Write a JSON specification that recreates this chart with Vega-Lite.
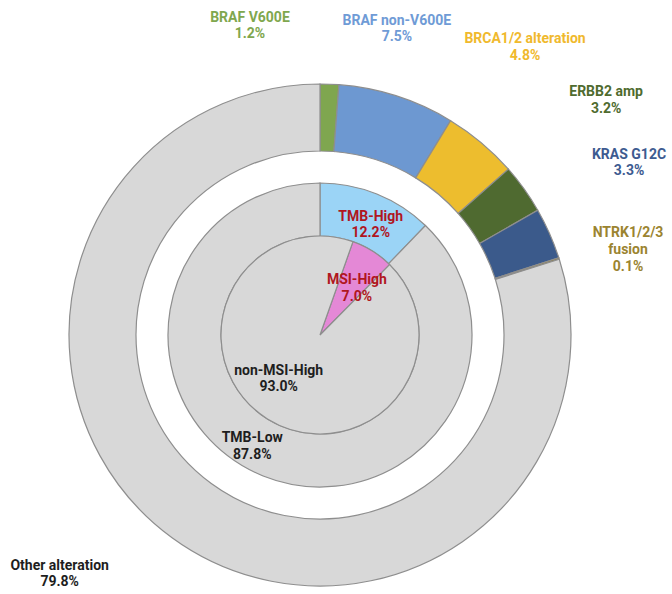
{
  "$schema": "https://vega.github.io/schema/vega-lite/v6.json",
  "autosize": {"type": "none"},
  "width": 640,
  "height": 518,
  "padding": {"left": 0, "top": 76, "right": 32, "bottom": 0},
  "background": "white",
  "config": {"view": {"stroke": null}},
  "datasets": {
    "outer": [
      {"cat": "BRAF V600E", "name": "BRAF V600E", "value": 0.012},
      {"cat": "BRAF non-V600E", "name": "BRAF non-V600E", "value": 0.075},
      {"cat": "BRCA1/2 alteration", "name": "BRCA1/2 alteration", "value": 0.048},
      {"cat": "ERBB2 amp", "name": "ERBB2 amp", "value": 0.032},
      {"cat": "KRAS G12C", "name": "KRAS G12C", "value": 0.033},
      {"cat": "NTRK1/2/3 fusion", "name": "NTRK1/2/3\nfusion", "value": 0.001},
      {"cat": "Other alteration", "name": "Other alteration", "value": 0.798}
    ],
    "tmb": [
      {"cat": "TMB-High", "name": "TMB-High", "value": 0.122},
      {"cat": "TMB-Low", "name": "TMB-Low", "value": 0.878}
    ],
    "msi": [
      {"cat": "MSI-High", "name": "MSI-High", "value": 0.07},
      {"cat": "non-MSI-High", "name": "non-MSI-High", "value": 0.93}
    ]
  },
  "resolve": {"scale": {"theta": "independent"}},
  "layer": [
    {
      "data": {"name": "outer"},
      "mark": {"type": "arc", "innerRadius": 184, "outerRadius": 251, "stroke": "#8e8e8e", "strokeWidth": 1.2},
      "encoding": {
        "theta": {"field": "value", "type": "quantitative", "stack": true},
        "order": {"field": "cat", "sort": "ascending"},
        "color": {
          "field": "cat", "type": "nominal", "legend": null,
          "scale": {
            "domain": ["BRAF V600E", "BRAF non-V600E", "BRCA1/2 alteration", "ERBB2 amp", "KRAS G12C", "NTRK1/2/3 fusion", "Other alteration", "TMB-High", "TMB-Low", "MSI-High", "non-MSI-High"],
            "range": ["#7fa64f", "#6d98d1", "#edbd2e", "#4f6a30", "#3b5a8b", "#8f7c2c", "#d8d8d8", "#9bd4f6", "#d8d8d8", "#e488d6", "#d8d8d8"]
          }
        }
      }
    },
    {
      "data": {"name": "tmb"},
      "mark": {"type": "arc", "innerRadius": 99, "outerRadius": 152, "stroke": "#8e8e8e", "strokeWidth": 1.2},
      "encoding": {
        "theta": {"field": "value", "type": "quantitative", "stack": true},
        "order": {"field": "cat", "sort": "ascending"},
        "color": {"field": "cat", "type": "nominal", "legend": null}
      }
    },
    {
      "data": {"name": "msi"},
      "mark": {"type": "arc", "innerRadius": 0, "outerRadius": 99, "stroke": "#8e8e8e", "strokeWidth": 1.2},
      "encoding": {
        "theta": {"field": "value", "type": "quantitative", "stack": true, "scale": {"range": [0.3395, 6.6227]}},
        "order": {"field": "cat", "sort": "ascending"},
        "color": {"field": "cat", "type": "nominal", "legend": null}
      }
    },
    {
      "data": {"name": "outer"},
      "mark": {
        "type": "text", "radius": 251, "font": "Roboto", "fontWeight": "bold", "fontSize": 14, "lineBreak": "\n", "lineHeight": 17, "baseline": "middle", "align": "center",
        "dx": {"expr": "[-79.5, 0, 43.7, 82, 79.5, 69, -112][indexof(['BRAF V600E','BRAF non-V600E','BRCA1/2 alteration','ERBB2 amp','KRAS G12C','NTRK1/2/3 fusion','Other alteration'], datum.cat)]"},
        "dy": {"expr": "[-66.5, -75.4, -103.7, -97, -78.4, -25.5, 28.4][indexof(['BRAF V600E','BRAF non-V600E','BRCA1/2 alteration','ERBB2 amp','KRAS G12C','NTRK1/2/3 fusion','Other alteration'], datum.cat)]"}
      },
      "encoding": {
        "theta": {"field": "value", "type": "quantitative", "stack": true},
        "order": {"field": "cat", "sort": "ascending"},
        "text": {"field": "name"},
        "fill": {
          "field": "cat", "type": "nominal", "legend": null,
          "scale": {
            "domain": ["BRAF V600E", "BRAF non-V600E", "BRCA1/2 alteration", "ERBB2 amp", "KRAS G12C", "NTRK1/2/3 fusion", "Other alteration", "TMB-High", "TMB-Low", "MSI-High", "non-MSI-High"],
            "range": ["#80a74e", "#6f9bd6", "#f0b92d", "#4f6b2f", "#3d5b90", "#9b8430", "#1e1e1e", "#b0161e", "#1e1e1e", "#b0161e", "#1e1e1e"]
          }
        }
      }
    },
    {
      "data": {"name": "outer"},
      "mark": {
        "type": "text", "radius": 251, "font": "Roboto", "fontWeight": "bold", "fontSize": 14, "baseline": "middle", "align": "center",
        "dx": {"expr": "[-79.5, 0, 43.7, 82, 79.5, 69, -112][indexof(['BRAF V600E','BRAF non-V600E','BRCA1/2 alteration','ERBB2 amp','KRAS G12C','NTRK1/2/3 fusion','Other alteration'], datum.cat)]"},
        "dy": {"expr": "[-50, -58.8, -86.7, -80, -62.4, 8.5, 44.4][indexof(['BRAF V600E','BRAF non-V600E','BRCA1/2 alteration','ERBB2 amp','KRAS G12C','NTRK1/2/3 fusion','Other alteration'], datum.cat)]"}
      },
      "encoding": {
        "theta": {"field": "value", "type": "quantitative", "stack": true},
        "order": {"field": "cat", "sort": "ascending"},
        "text": {"field": "value", "type": "quantitative", "format": ".1%"},
        "fill": {"field": "cat", "type": "nominal", "legend": null}
      }
    },
    {
      "data": {"name": "tmb"},
      "mark": {
        "type": "text", "radius": 125, "font": "Roboto", "fontWeight": "bold", "fontSize": 14, "baseline": "middle", "align": "center",
        "dx": {"expr": "datum.cat === 'TMB-High' ? 4 : -21"},
        "dy": {"expr": "datum.cat === 'TMB-High' ? -2 : -13"}
      },
      "encoding": {
        "theta": {"field": "value", "type": "quantitative", "stack": true},
        "order": {"field": "cat", "sort": "ascending"},
        "text": {"field": "name"},
        "fill": {"field": "cat", "type": "nominal", "legend": null}
      }
    },
    {
      "data": {"name": "tmb"},
      "mark": {
        "type": "text", "radius": 125, "font": "Roboto", "fontWeight": "bold", "fontSize": 14, "baseline": "middle", "align": "center",
        "dx": {"expr": "datum.cat === 'TMB-High' ? 4 : -21"},
        "dy": {"expr": "datum.cat === 'TMB-High' ? 14.4 : 4"}
      },
      "encoding": {
        "theta": {"field": "value", "type": "quantitative", "stack": true},
        "order": {"field": "cat", "sort": "ascending"},
        "text": {"field": "value", "type": "quantitative", "format": ".1%"},
        "fill": {"field": "cat", "type": "nominal", "legend": null}
      }
    },
    {
      "data": {"name": "msi"},
      "mark": {
        "type": "text", "radius": 60, "font": "Roboto", "fontWeight": "bold", "fontSize": 14, "baseline": "middle", "align": "center",
        "dx": {"expr": "datum.cat === 'MSI-High' ? 5 : -9.5"},
        "dy": {"expr": "datum.cat === 'MSI-High' ? -4 : -15"}
      },
      "encoding": {
        "theta": {"field": "value", "type": "quantitative", "stack": true, "scale": {"range": [0.3395, 6.6227]}},
        "order": {"field": "cat", "sort": "ascending"},
        "text": {"field": "name"},
        "fill": {"field": "cat", "type": "nominal", "legend": null}
      }
    },
    {
      "data": {"name": "msi"},
      "mark": {
        "type": "text", "radius": 60, "font": "Roboto", "fontWeight": "bold", "fontSize": 14, "baseline": "middle", "align": "center",
        "dx": {"expr": "datum.cat === 'MSI-High' ? 5 : -9.5"},
        "dy": {"expr": "datum.cat === 'MSI-High' ? 13 : 1"}
      },
      "encoding": {
        "theta": {"field": "value", "type": "quantitative", "stack": true, "scale": {"range": [0.3395, 6.6227]}},
        "order": {"field": "cat", "sort": "ascending"},
        "text": {"field": "value", "type": "quantitative", "format": ".1%"},
        "fill": {"field": "cat", "type": "nominal", "legend": null}
      }
    }
  ]
}
